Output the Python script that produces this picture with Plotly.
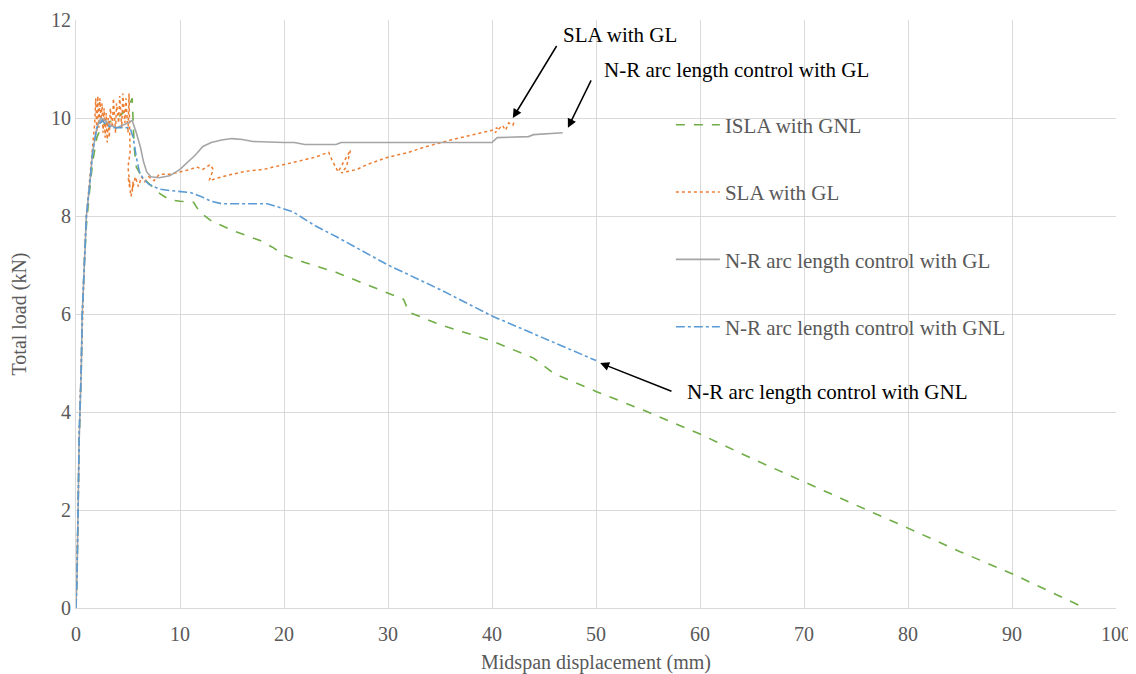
import plotly.graph_objects as go

# ISLA with GNL (green dashed)
isla_x = [0, 0.1, 0.2, 0.3, 0.5, 0.6, 0.8, 1.0, 1.3, 1.6, 2.0, 2.5, 3.0, 3.5, 4.0, 4.5, 5.0, 5.4, 5.5, 5.6, 5.8,
          6.2, 6.8, 7.3, 7.8, 8.1, 9, 10, 11.3, 11.9, 13, 15.1, 17.7, 19, 20, 22, 25, 28, 30, 31.5, 32, 35, 40,
          44, 46, 50, 55, 60, 65, 70, 75, 80, 85, 90, 95, 97]
isla_y = [0, 0.6, 2.0, 3.4, 4.8, 6.0, 7.0, 7.8, 8.5, 9.1, 9.6, 9.85, 9.9, 9.95, 10.0, 10.1, 10.2, 10.4, 10.0, 9.4, 9.0,
          8.85, 8.7, 8.6, 8.5, 8.45, 8.33, 8.3, 8.28, 8.08, 7.9, 7.7, 7.5, 7.35, 7.2, 7.05, 6.85, 6.6, 6.43, 6.3, 6.04,
          5.78, 5.45, 5.1, 4.78, 4.42, 4.0, 3.55, 3.05, 2.57, 2.1, 1.63, 1.15, 0.7, 0.2, 0.0]

# SLA with GL (orange dotted)
sla_x = [0, 0.1, 0.2, 0.3, 0.5, 0.6, 0.8, 1.0, 1.2, 1.4, 1.6, 1.8, 1.9, 2.0, 2.1, 2.2, 2.3, 2.4, 2.5, 2.6, 2.7,
         2.8, 2.9, 3.0, 3.1, 3.2, 3.3, 3.5, 3.6, 3.8, 3.9, 4.1, 4.2, 4.4, 4.5, 4.7, 4.8, 5.0, 5.1, 5.2, 5.0, 5.2,
         5.0, 5.3, 5.5, 5.4, 5.7, 6.0, 6.3, 6.6, 7.0, 7.5, 8.0, 9.0, 10.0, 11.0, 11.6, 12.2, 12.9, 13.2, 12.8,
         14, 15, 16, 17, 18, 19, 20, 21, 22, 23, 24, 24.3, 24.6, 25.2, 25.6, 26.0, 26.4, 26.0, 25.5, 27, 28, 30,
         32, 33.4, 35, 36, 37, 38, 39, 40, 40.5, 40.3, 41, 41.3, 41.6, 42, 42.2]
sla_y = [0, 0.8, 2.0, 3.5, 4.9, 6.0, 7.1, 8.0, 8.5, 9.0, 9.5, 9.9, 10.4, 9.7, 10.45, 9.8, 10.4, 9.9, 10.3, 9.7, 10.2,
         9.6, 10.1, 9.5, 10.0, 9.6, 10.2, 9.8, 10.4, 9.7, 10.3, 9.9, 10.45, 9.8, 10.5, 9.9, 10.4, 9.7, 10.5, 9.3, 9.0, 8.6,
         8.8, 8.4, 8.7, 8.5, 8.8, 8.6, 8.8, 8.7, 8.8, 8.72, 8.85, 8.85, 8.9, 8.95, 9.0, 8.95, 9.05, 8.95, 8.72,
         8.8, 8.85, 8.9, 8.93, 8.95, 9.0, 9.05, 9.1, 9.15, 9.2, 9.28, 9.3, 9.15, 8.9, 9.05, 9.2, 9.35, 9.0, 8.88, 8.95, 9.05, 9.2,
         9.3, 9.4, 9.5, 9.55, 9.6, 9.65, 9.7, 9.75, 9.8, 9.7, 9.85, 9.75, 9.9, 9.85, 9.95]

# N-R arc length control with GL (grey solid)
nrgl_x = [0, 0.1, 0.2, 0.3, 0.5, 0.6, 0.8, 1.0, 1.3, 1.6, 2.0, 2.4, 2.8, 3.3, 3.9, 4.5, 5.0, 5.4, 5.8, 6.2, 6.5,
          6.8, 7.2, 8, 9, 10, 10.8, 11.5, 12.2, 13, 14, 15, 16, 17, 20, 21, 22, 25, 25.5, 40, 40.5, 43.5, 44, 46.8]
nrgl_y = [0, 0.7, 2.0, 3.4, 4.8, 6.0, 7.0, 8.0, 8.6, 9.3, 9.8, 10.0, 9.95, 9.85, 9.8, 9.85, 9.9, 9.95, 9.7, 9.4, 9.1,
          8.9, 8.8, 8.78, 8.82, 8.95, 9.1, 9.25, 9.42, 9.5, 9.55, 9.58, 9.56, 9.52, 9.5, 9.5, 9.46, 9.46, 9.5, 9.5, 9.6,
          9.62, 9.66, 9.7]

# N-R arc length control with GNL (blue dash-dot)
nrgnl_x = [0, 0.1, 0.2, 0.3, 0.5, 0.6, 0.8, 1.0, 1.3, 1.6, 2.0, 2.5, 3.0, 3.5, 4.5, 5.2, 5.5, 5.8, 6.1, 6.5, 7.0,
           8, 9, 10, 11, 12, 13, 14, 16, 18.4, 19.5, 20.9, 23, 25.1, 30, 35, 40, 45, 50]
nrgnl_y = [0, 0.7, 2.0, 3.5, 4.85, 6.0, 7.0, 8.0, 8.6, 9.3, 9.8, 9.95, 9.85, 9.8, 9.8, 9.8, 9.6, 9.2, 8.9, 8.75, 8.65,
           8.55, 8.52, 8.5, 8.48, 8.4, 8.3, 8.25, 8.25, 8.25, 8.18, 8.08, 7.8, 7.57, 7.0, 6.5, 5.96, 5.5, 5.05]

x_ticks = [0, 10, 20, 30, 40, 50, 60, 70, 80, 90, 100]
y_ticks = [0, 2, 4, 6, 8, 10, 12]

FONT = "Liberation Serif"
GREY = "#595959"

fig = go.Figure()
fig.add_trace(go.Scatter(x=isla_x, y=isla_y, mode="lines", name="ISLA with GNL", legendgroup="a",
                         line=dict(color="#70AD47", width=1.6, dash="dash")))
fig.add_trace(go.Scatter(x=sla_x, y=sla_y, mode="lines", name="SLA with GL", legendgroup="b",
                         line=dict(color="#ED7D31", width=1.5, dash="dot")))
fig.add_trace(go.Scatter(x=nrgl_x, y=nrgl_y, mode="lines", name="N-R arc length control with GL", legendgroup="c",
                         line=dict(color="#A5A5A5", width=1.6)))
fig.add_trace(go.Scatter(x=nrgnl_x, y=nrgnl_y, mode="lines", name="N-R arc length control with GNL", legendgroup="d",
                         line=dict(color="#5B9BD5", width=1.6, dash="dashdot")))

arrows = [
    dict(x=42.0, y=10.0, ax=46.3, ay=11.5),
    dict(x=47.3, y=9.8, ax=49.6, ay=10.8),
    dict(x=50.4, y=5.0, ax=57.4, ay=4.41),
]
for a in arrows:
    fig.add_annotation(x=a["x"], y=a["y"], ax=a["ax"], ay=a["ay"], axref="x", ayref="y", xref="x", yref="y",
                       text="", showarrow=True, arrowhead=2, arrowsize=1.2, arrowwidth=1.5, arrowcolor="black")

labels = [
    dict(x=46.6, y=11.7, text="SLA with GL"),
    dict(x=50.6, y=10.98, text="N-R arc length control with GL"),
    dict(x=58.6, y=4.4, text="N-R arc length control with GNL"),
]
for l in labels:
    fig.add_annotation(x=l["x"], y=l["y"], xref="x", yref="y", text=l["text"], showarrow=False,
                       xanchor="left", yanchor="middle", font=dict(family=FONT, size=21, color="black"))

# page body has an 8px margin; the figure is sized/offset to compensate
fig.update_layout(
    width=1128, height=666,
    margin=dict(l=68, r=20, t=12, b=66),
    paper_bgcolor="white", plot_bgcolor="white",
    font=dict(family=FONT, size=20, color=GREY),
    legend=dict(x=0.572, y=0.856, xanchor="left", yanchor="top", bgcolor="rgba(0,0,0,0)",
                font=dict(family=FONT, size=21, color=GREY), tracegroupgap=37, itemwidth=44),
    xaxis=dict(range=[0, 100], tickvals=x_ticks, showgrid=True, gridcolor="#D9D9D9", gridwidth=1,
               zeroline=False, showline=True, linecolor="#D9D9D9", ticks="", automargin=False,
               ticklabelstandoff=8,
               title=dict(text="Midspan displacement (mm)", font=dict(family=FONT, size=20, color=GREY), standoff=10),
               tickfont=dict(family=FONT, size=20, color=GREY)),
    yaxis=dict(range=[0, 12], tickvals=y_ticks, showgrid=True, gridcolor="#D9D9D9", gridwidth=1,
               zeroline=False, showline=True, linecolor="#D9D9D9", ticks="", automargin=False,
               title=dict(text="Total load (kN)", font=dict(family=FONT, size=20, color=GREY), standoff=20),
               tickfont=dict(family=FONT, size=20, color=GREY)),
)

fig.write_html("out.html")
